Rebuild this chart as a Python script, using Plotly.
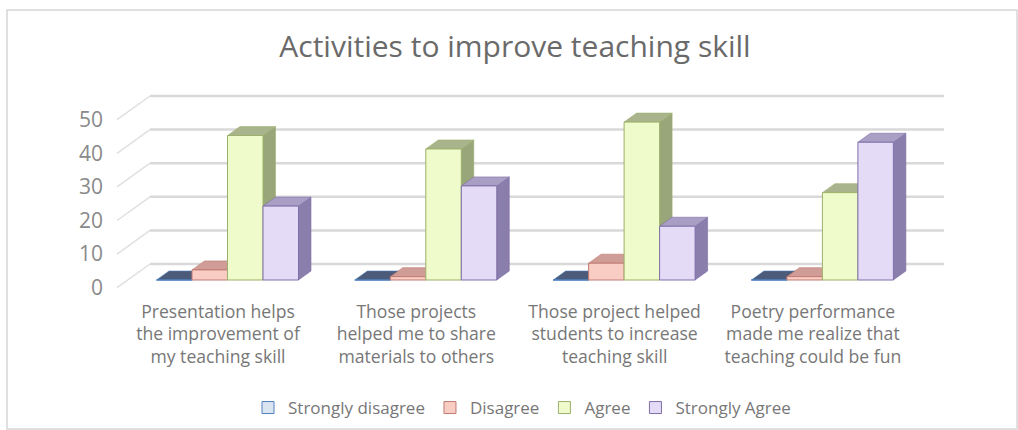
import plotly.graph_objects as go

# ---------------- data ----------------
categories = [
    "Presentation helps<br>the improvement of<br>my teaching skill",
    "Those projects<br>helped me to share<br>materials to others",
    "Those project helped<br>students to increase<br>teaching skill",
    "Poetry performance<br>made me realize that<br>teaching could be fun",
]
series_names = ["Strongly disagree", "Disagree", "Agree", "Strongly Agree"]
strongly_disagree = [0, 0, 0, 0]
disagree = [3, 1, 5, 1]
agree = [43, 39, 47, 26]
strongly_agree = [22, 28, 16, 41]
y_ticks = [0, 10, 20, 30, 40, 50]

series_values = [strongly_disagree, disagree, agree, strongly_agree]

# ---------------- styles ----------------
front_fill = ["#dbe5f1", "#f9cdc3", "#effbcb", "#e4dbf7"]
outline = ["#4f81bd", "#c07a72", "#9db06b", "#7f6fa8"]
top_fill = ["#4d5b7b", "#cf9d95", "#a9b48d", "#a99fc5"]
side_fill = ["#3f4b68", "#b7857e", "#98a67a", "#8a7eac"]
FONT = "Open Sans, Lato, sans-serif"

# ---------------- geometry (pixel layout -> data units) ----------------
W, H = 1018, 430
ML, MR, MT, MB = 106, 18, 80, 134
PX0, PX1 = ML, W - MR
PY0, PY1 = MT, H - MB
px_per_cat = 198.3
px_per_val = 3.36
cat0_px = 227.5
base_px = 280.0


def ux(p):
    return p / px_per_cat


def uy(p):
    return p / px_per_val


x_range = [(PX0 - cat0_px) / px_per_cat, (PX1 - cat0_px) / px_per_cat]
y_range = [(base_px - PY1) / px_per_val, (base_px - PY0) / px_per_val]

n_series = len(series_values)
group_w = 0.716
bar_w = group_w / n_series
DX, DY = ux(12.5), uy(9)
back_shift = uy(16)
front_shift = uy(7.7)
xb_left = ux(150 - cat0_px)
xf_left = ux(117 - cat0_px)
x_right = ux(944 - cat0_px)
label_shift = ux(9.5)

fig = go.Figure()

# back-wall grid lines and left-wall diagonals
gx, gy = [], []
for v in y_ticks:
    gx += [xb_left, x_right, None]
    gy += [v + back_shift, v + back_shift, None]
fig.add_trace(go.Scatter(x=gx, y=gy, mode="lines", line=dict(color="#d9d9d9", width=2.5),
                         hoverinfo="skip", showlegend=False))
dxs, dys = [], []
for v in y_ticks:
    dxs += [xf_left, xb_left, None]
    dys += [v - front_shift, v + back_shift, None]
fig.add_trace(go.Scatter(x=dxs, y=dys, mode="lines", line=dict(color="#e0e0e0", width=1.5),
                         hoverinfo="skip", showlegend=False))

# side faces
for k, vals in enumerate(series_values):
    sx, sy = [], []
    for i, v in enumerate(vals):
        L = i - group_w / 2 + k * bar_w
        R = L + bar_w
        sx += [R, R + DX, R + DX, R, R, None]
        sy += [0, DY, v + DY, v, 0, None]
    fig.add_trace(go.Scatter(x=sx, y=sy, mode="lines", fill="toself", fillcolor=side_fill[k],
                             line=dict(color=outline[k], width=0.6), hoverinfo="skip",
                             showlegend=False))
# top faces
for k, vals in enumerate(series_values):
    tx, ty = [], []
    for i, v in enumerate(vals):
        L = i - group_w / 2 + k * bar_w
        R = L + bar_w
        tx += [L, R, R + DX, L + DX, L, None]
        ty += [v, v, v + DY, v + DY, v, None]
    fig.add_trace(go.Scatter(x=tx, y=ty, mode="lines", fill="toself", fillcolor=top_fill[k],
                             line=dict(color=outline[k], width=0.6), hoverinfo="skip",
                             showlegend=False))

# front faces (bars) on an overlaid subplot so they sit above side/top faces
for k, vals in enumerate(series_values):
    fig.add_trace(go.Bar(
        x=list(range(len(categories))), y=vals, name=series_names[k],
        width=bar_w, offset=-group_w / 2 + k * bar_w,
        marker=dict(color=front_fill[k], line=dict(color=outline[k], width=1)),
        xaxis="x2", yaxis="y2",
    ))

fig.update_layout(
    width=W, height=H,
    margin=dict(l=ML, r=MR, t=MT, b=MB, autoexpand=False),
    paper_bgcolor="white", plot_bgcolor="rgba(0,0,0,0)",
    barmode="overlay",
    title=dict(text="Activities to improve teaching skill", x=515 / W, xanchor="center",
               y=1 - 46 / H, yanchor="middle",
               font=dict(family=FONT, size=30, color="#6a6a6a")),
    xaxis=dict(range=x_range, showgrid=False, zeroline=False, showline=False, automargin=False,
               tickmode="array", tickvals=[i - label_shift for i in range(len(categories))],
               ticktext=categories, ticks="", ticklabelstandoff=3,
               tickfont=dict(family=FONT, size=17.6, color="#777777")),
    yaxis=dict(range=y_range, showgrid=False, zeroline=False, showline=False, automargin=False,
               tickmode="array", tickvals=[v - front_shift for v in y_ticks],
               ticktext=[str(v) for v in y_ticks], ticks="", ticklabelstandoff=2,
               tickfont=dict(family=FONT, size=21, color="#8a8a8a")),
    xaxis2=dict(range=x_range, overlaying="x", visible=False, automargin=False),
    yaxis2=dict(range=y_range, overlaying="y", visible=False, automargin=False),
    legend=dict(orientation="h", xanchor="center", yanchor="middle",
                xref="container", yref="container",
                x=522 / W, y=1 - 408 / H,
                font=dict(family=FONT, size=17, color="#777777"), traceorder="normal"),
    shapes=[dict(type="rect", xref="paper", yref="paper",
                 x0=(7 - PX0) / (PX1 - PX0), x1=(1017 - PX0) / (PX1 - PX0),
                 y0=(PY1 - 429) / (PY1 - PY0), y1=(PY1 - 10) / (PY1 - PY0),
                 line=dict(color="#d6d6d6", width=1.5), layer="below")],
)

fig.write_html("out.html", config={"displayModeBar": False},
               post_script="document.body.style.margin='0';")
